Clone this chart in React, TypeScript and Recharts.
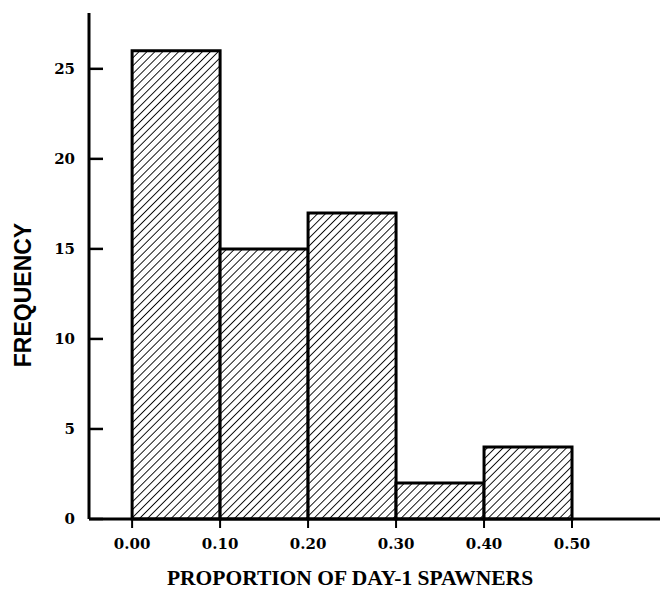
import React from "react";
import { ComposedChart, XAxis, YAxis, ReferenceArea } from "recharts";

const binStarts = [0, 0.1, 0.2, 0.3, 0.4];
const binEnds = [0.1, 0.2, 0.3, 0.4, 0.5];
const frequencies = [26, 15, 17, 2, 4];
const xTicks = [0, 0.1, 0.2, 0.3, 0.4, 0.5];
const yTicks = [0, 5, 10, 15, 20, 25];
const xTitle = "PROPORTION OF DAY-1 SPAWNERS";
const yTitle = "FREQUENCY";

const data = binStarts.map((s, i) => ({ start: s, end: binEnds[i], mid: (s + binEnds[i]) / 2, freq: frequencies[i] }));

const tickFont = { fontFamily: "'DejaVu Serif', serif", fontWeight: 700, fontSize: 15, fill: "#000" };

const YTick = (props: any) => {
  const { x, y, payload } = props;
  const ax = x + 14;
  return (
    <g>
      <line x1={ax} x2={ax + 14} y1={y} y2={y} stroke="#000" strokeWidth={2.5} />
      <text x={x} y={y} dy="0.355em" textAnchor="end" {...tickFont}>
        {payload.value}
      </text>
    </g>
  );
};

export default function App() {
  return (
    <div style={{ position: "absolute", left: 0, top: 0, width: 666, height: 591, background: "#fff" }}>
      <svg width={0} height={0} style={{ position: "absolute" }}>
        <defs>
          <pattern id="hatch" patternUnits="userSpaceOnUse" width={5.6} height={5.6} patternTransform="rotate(45)">
            <rect x={0} y={0} width={5.6} height={5.6} fill="#fff" />
            <line x1={0} y1={0} x2={0} y2={5.6} stroke="#000" strokeWidth={1.8} />
          </pattern>
        </defs>
      </svg>
      <ComposedChart width={666} height={591} data={data} margin={{ top: 13, right: 6, bottom: 0, left: 29 }}>
        <XAxis
          type="number"
          dataKey="mid"
          domain={[-0.049, 0.6]}
          allowDataOverflow
          ticks={xTicks}
          tickFormatter={(v: number) => v.toFixed(2)}
          height={72}
          tickSize={9}
          tickMargin={10}
          axisLine={{ stroke: "#000", strokeWidth: 3 }}
          tickLine={{ stroke: "#000", strokeWidth: 2 }}
          tick={tickFont}
        />
        <YAxis
          type="number"
          domain={[0, 28.1]}
          allowDataOverflow
          ticks={yTicks}
          width={60}
          tickSize={0}
          tickMargin={14}
          tickLine={false}
          axisLine={{ stroke: "#000", strokeWidth: 3 }}
          tick={<YTick />}
        />
        {data.map((d, i) => (
          <ReferenceArea
            key={i}
            x1={d.start}
            x2={d.end}
            y1={0}
            y2={d.freq}
            fill="url(#hatch)"
            fillOpacity={1}
            stroke="#000"
            strokeWidth={3}
            strokeOpacity={1}
            ifOverflow="visible"
          />
        ))}
      </ComposedChart>
      <div
        style={{
          position: "absolute",
          left: 23,
          top: 295,
          transform: "translate(-50%, -50%) rotate(-90deg)",
          whiteSpace: "nowrap",
          fontFamily: "'Liberation Sans', Arial, sans-serif",
          fontWeight: 700,
          fontSize: 23,
          lineHeight: 1,
          color: "#000",
        }}
      >
        {yTitle}
      </div>
      <div
        style={{
          position: "absolute",
          left: 350,
          top: 579,
          transform: "translate(-50%, -50%)",
          whiteSpace: "nowrap",
          fontFamily: "'Liberation Serif', serif",
          fontWeight: 700,
          fontSize: 21.5,
          lineHeight: 1,
          color: "#000",
        }}
      >
        {xTitle}
      </div>
    </div>
  );
}
